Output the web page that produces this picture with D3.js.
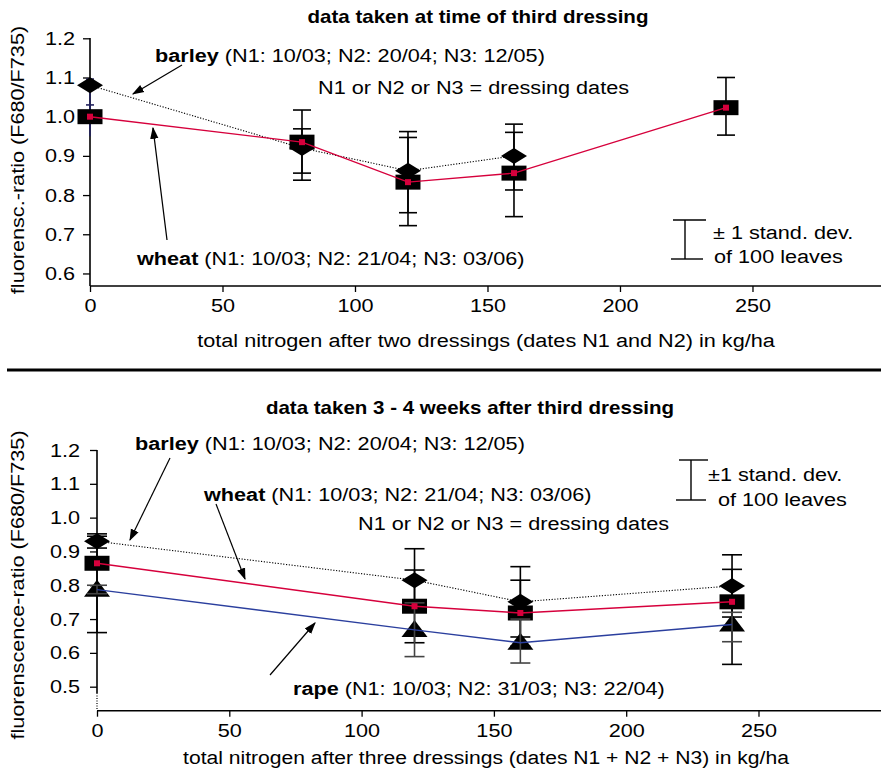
<!DOCTYPE html>
<html>
<head>
<meta charset="utf-8">
<script src="https://cdn.jsdelivr.net/npm/d3@7"></script>
<style>
  body { margin: 0; background: #fff; }
  text { font-family: "Liberation Sans", Arial, Helvetica, sans-serif; fill: #000; }
</style>
</head>
<body>
<div id="chart"></div>
<script>
// ---- data ----
var xTicks = [0, 50, 100, 150, 200, 250];

// top panel: data taken at time of third dressing
var topWheatN = [0, 80, 120, 160, 240];
var topWheat = [1.0, 0.935, 0.833, 0.856, 1.023];
var topWheatHi = [1.03, 1.017, 0.947, 0.96, 1.1];
var topWheatLo = [0.97, 0.856, 0.722, 0.745, 0.953];
var topBarleyN = [0, 80, 120, 160];
var topBarley = [1.08, 0.92, 0.862, 0.9];
var topBarleyHi = [1.096, 0.969, 0.962, 0.981];
var topBarleyLo = [0.95, 0.838, 0.755, 0.813];
var topYTicks = [0.6, 0.7, 0.8, 0.9, 1.0, 1.1, 1.2];

// bottom panel: data taken 3 - 4 weeks after third dressing
var botN = [0, 120, 160, 240];
var botBarley = [0.93, 0.815, 0.751, 0.798];
var botBarleyHi = [0.952, 0.908, 0.855, 0.89];
var botBarleyLo = [0.91, 0.722, 0.647, 0.706];
var botWheat = [0.865, 0.738, 0.718, 0.751];
var botWheatHi = [0.945, 0.845, 0.815, 0.847];
var botWheatLo = [0.66, 0.63, 0.62, 0.566];
var botRape = [0.787, 0.668, 0.63, 0.684];
var botRapeHi = [0.80, 0.748, 0.7, 0.72];
var botRapeLo = [0.775, 0.589, 0.57, 0.633];
var botYTicks = [0.5, 0.6, 0.7, 0.8, 0.9, 1.0, 1.1, 1.2];

var width = 881, height = 774;
var RED = "#d6003c", BLUE = "#2b3f9e";
var SX = 1.14;       // the original lettering is a bit wider than Arial
var FS = "19px";

var svg = d3.select("#chart").append("svg")
    .attr("width", width)
    .attr("height", height);

function rows(xs, ys, his, los) {
    return xs.map(function (x, i) { return { x: x, y: ys[i], hi: his[i], lo: los[i] }; });
}

// text placed at x,y and stretched horizontally
function txt(g, x, y, s, anchor, rot) {
    return g.append("text")
        .attr("transform", "translate(" + x + "," + y + ")" + (rot ? " rotate(" + rot + ")" : "") + " scale(" + SX + ",1)")
        .attr("text-anchor", anchor || "start")
        .style("font-size", FS)
        .text(s);
}

function drawAxes(g, x, y, yTicks, x0, xAxisY, yLabGap) {
    var ya = g.append("g").attr("transform", "translate(" + x0 + ",0)")
        .call(d3.axisLeft(y).tickValues(yTicks).tickFormat(d3.format(".1f")).tickSize(7));
    ya.select(".domain").remove();
    ya.selectAll("text").style("font-size", FS)
        .attr("x", -yLabGap / SX).attr("transform", "scale(" + SX + ",1)");
    ya.selectAll("line").attr("stroke", "#000").attr("stroke-width", 1.3);

    var xa = g.append("g").attr("transform", "translate(0," + xAxisY + ")")
        .call(d3.axisBottom(x).tickValues(xTicks).tickSize(6).tickPadding(7));
    xa.select(".domain").remove();
    xa.selectAll("text").style("font-size", FS).attr("transform", "scale(" + SX + ",1)");
    xa.selectAll("line").attr("stroke", "#000").attr("stroke-width", 1.3);

    g.append("line").attr("x1", x0).attr("x2", width).attr("y1", xAxisY).attr("y2", xAxisY)
        .attr("stroke", "#000").attr("stroke-width", 1.6);
}

function errorBars(g, x, y, data, color, capW, noLowCap) {
    var e = g.append("g").attr("stroke", color).attr("stroke-width", 1.6);
    data.forEach(function (d) {
        var cx = x(d.x);
        e.append("line").attr("x1", cx).attr("x2", cx).attr("y1", y(d.hi)).attr("y2", y(d.lo));
        e.append("line").attr("x1", cx - capW / 2).attr("x2", cx + capW / 2).attr("y1", y(d.hi)).attr("y2", y(d.hi));
        if (!noLowCap)
            e.append("line").attr("x1", cx - capW / 2).attr("x2", cx + capW / 2).attr("y1", y(d.lo)).attr("y2", y(d.lo));
    });
}

function squares(g, x, y, data) {
    g.selectAll(null).data(data).enter().append("rect")
        .attr("x", function (d) { return x(d.x) - 12.5; })
        .attr("y", function (d) { return y(d.y) - 7.5; })
        .attr("width", 25).attr("height", 15).attr("fill", "#000");
}
function redDots(g, x, y, data) {
    g.selectAll(null).data(data).enter().append("rect")
        .attr("x", function (d) { return x(d.x) - 3; })
        .attr("y", function (d) { return y(d.y) - 3; })
        .attr("width", 6).attr("height", 6).attr("fill", RED);
}
function diamonds(g, x, y, data) {
    g.selectAll(null).data(data).enter().append("path")
        .attr("d", function (d) {
            var cx = x(d.x), cy = y(d.y);
            return "M" + (cx - 13) + "," + cy + "L" + cx + "," + (cy - 8) + "L" + (cx + 13) + "," + cy + "L" + cx + "," + (cy + 8) + "Z";
        })
        .attr("fill", "#000");
}
function triangles(g, x, y, data) {
    g.selectAll(null).data(data).enter().append("path")
        .attr("d", function (d) {
            var cx = x(d.x), cy = y(d.y);
            return "M" + (cx - 13) + "," + (cy + 7) + "L" + cx + "," + (cy - 10) + "L" + (cx + 13) + "," + (cy + 7) + "Z";
        })
        .attr("fill", "#000");
}
function seriesLine(g, x, y, data, color, dash, w) {
    var line = d3.line().x(function (d) { return x(d.x); }).y(function (d) { return y(d.y); });
    g.append("path").datum(data).attr("d", line).attr("fill", "none")
        .attr("stroke", color).attr("stroke-width", w).attr("stroke-dasharray", dash);
}

// arrow marker
svg.append("defs").append("marker")
    .attr("id", "arrow").attr("viewBox", "0 0 10 10").attr("refX", 9).attr("refY", 5)
    .attr("markerWidth", 12).attr("markerHeight", 12).attr("markerUnits", "userSpaceOnUse")
    .attr("orient", "auto")
    .append("path").attr("d", "M0,1.5L10,5L0,8.5Z").attr("fill", "#000");

function arrow(g, x1, y1, x2, y2) {
    g.append("line").attr("x1", x1).attr("y1", y1).attr("x2", x2).attr("y2", y2)
        .attr("stroke", "#000").attr("stroke-width", 1.2).attr("marker-end", "url(#arrow)");
}

function label(g, x, y, bold, rest) {
    var t = txt(g, x, y, null);
    t.append("tspan").style("font-weight", "bold").text(bold);
    t.append("tspan").text(" " + rest);
}

function sdLegend(g, xv, xl, top, bot, tx, ty1, s1, tx2, ty2) {
    g.append("line").attr("x1", xv).attr("x2", xv).attr("y1", top).attr("y2", bot).attr("stroke", "#000").attr("stroke-width", 1.4);
    g.append("line").attr("x1", xl[0]).attr("x2", xl[1]).attr("y1", top).attr("y2", top).attr("stroke", "#000").attr("stroke-width", 1.4);
    g.append("line").attr("x1", xl[2]).attr("x2", xl[3]).attr("y1", bot).attr("y2", bot).attr("stroke", "#000").attr("stroke-width", 1.4);
    txt(g, tx, ty1, s1);
    txt(g, tx2, ty2, "of 100 leaves");
}

// ================= top panel =================
var gt = svg.append("g");
var xt = d3.scaleLinear().domain([0, 298.5]).range([90, 881]);
var yt = d3.scaleLinear().domain([0.568, 1.2]).range([286, 38.3]);

txt(gt, 478, 23, "data taken at time of third dressing", "middle")
    .style("font-size", "18px").style("font-weight", "bold");

drawAxes(gt, xt, yt, topYTicks, 90, 286, 15);
gt.append("line").attr("x1", 90).attr("x2", 90).attr("y1", 38).attr("y2", 286).attr("stroke", "#000").attr("stroke-width", 1.6);

txt(gt, 24, 160, "fluorensc.-ratio (F680/F735)", "middle", -90);
txt(gt, 486, 347, "total nitrogen after two dressings (dates N1 and N2) in kg/ha", "middle");

var tw = rows(topWheatN, topWheat, topWheatHi, topWheatLo);
var tb = rows(topBarleyN, topBarley, topBarleyHi, topBarleyLo);
errorBars(gt, xt, yt, tb.slice(1), "#000", 18);
errorBars(gt, xt, yt, tw.slice(1), "#000", 18);
errorBars(gt, xt, yt, [tb[0], tw[0]], "#22225e", 8, true);
diamonds(gt, xt, yt, tb);
squares(gt, xt, yt, tw);
seriesLine(gt, xt, yt, tb, "#000", "1.2,1.6", 1.1);
seriesLine(gt, xt, yt, tw, RED, null, 1.4);
redDots(gt, xt, yt, tw);

label(gt, 155, 62, "barley", "(N1: 10/03; N2: 20/04; N3: 12/05)");
txt(gt, 318, 94, "N1 or N2 or N3 = dressing dates");
label(gt, 137, 265, "wheat", "(N1: 10/03; N2: 21/04; N3: 03/06)");
arrow(gt, 182, 65, 133, 94);
arrow(gt, 167, 240, 153, 128);
sdLegend(gt, 685, [673, 706, 671, 703], 220, 259, 713, 239, "\u00b1 1 stand. dev.", 714, 263);

// separator
svg.append("line").attr("x1", 7).attr("x2", 881).attr("y1", 370).attr("y2", 370)
    .attr("stroke", "#000").attr("stroke-width", 3);

// ================= bottom panel =================
var gb = svg.append("g");
var xb = d3.scaleLinear().domain([0, 298]).range([97, 885.5]);
var yb = d3.scaleLinear().domain([0.429, 1.2]).range([710.7, 450]);

txt(gb, 470, 414, "data taken 3 - 4 weeks after third dressing", "middle")
    .style("font-size", "18px").style("font-weight", "bold");

drawAxes(gb, xb, yb, botYTicks, 97, 710.7, 17);
gb.append("line").attr("x1", 97).attr("x2", 97).attr("y1", 450).attr("y2", 693).attr("stroke", "#000").attr("stroke-width", 1.6);
gb.append("line").attr("x1", 97).attr("x2", 97).attr("y1", 693).attr("y2", 710).attr("stroke", "#000")
    .attr("stroke-width", 1.2).attr("stroke-dasharray", "1,1.5");

txt(gb, 24, 585, "fluorenscence-ratio (F680/F735)", "middle", -90);
txt(gb, 484, 764, "total nitrogen after three dressings (dates N1 + N2 + N3) in kg/ha", "middle")
    .attr("transform", "translate(486,764) scale(1.11,1)");

var bb = rows(botN, botBarley, botBarleyHi, botBarleyLo);
var bw = rows(botN, botWheat, botWheatHi, botWheatLo);
var br = rows(botN, botRape, botRapeHi, botRapeLo);
errorBars(gb, xb, yb, bb, "#000", 20);
errorBars(gb, xb, yb, bw, "#000", 20);
diamonds(gb, xb, yb, bb);
squares(gb, xb, yb, bw);
triangles(gb, xb, yb, br);
errorBars(gb, xb, yb, br, "#444", 20);
seriesLine(gb, xb, yb, bb, "#000", "1.2,1.6", 1.1);
seriesLine(gb, xb, yb, bw, RED, null, 1.4);
seriesLine(gb, xb, yb, br, BLUE, null, 1.4);
redDots(gb, xb, yb, bw);

label(gb, 135, 450, "barley", "(N1: 10/03; N2: 20/04; N3: 12/05)");
label(gb, 204, 501, "wheat", "(N1: 10/03; N2: 21/04; N3: 03/06)");
txt(gb, 358, 530, "N1 or N2 or N3 = dressing dates");
label(gb, 293, 695, "rape", "(N1: 10/03; N2: 31/03; N3: 22/04)");
arrow(gb, 170, 458, 130, 540);
arrow(gb, 216, 504, 245, 579);
arrow(gb, 270, 675, 315, 623);
sdLegend(gb, 691, [679, 708, 676, 706], 460, 500, 708, 481, "\u00b11 stand. dev.", 718, 506);
</script>
</body>
</html>
